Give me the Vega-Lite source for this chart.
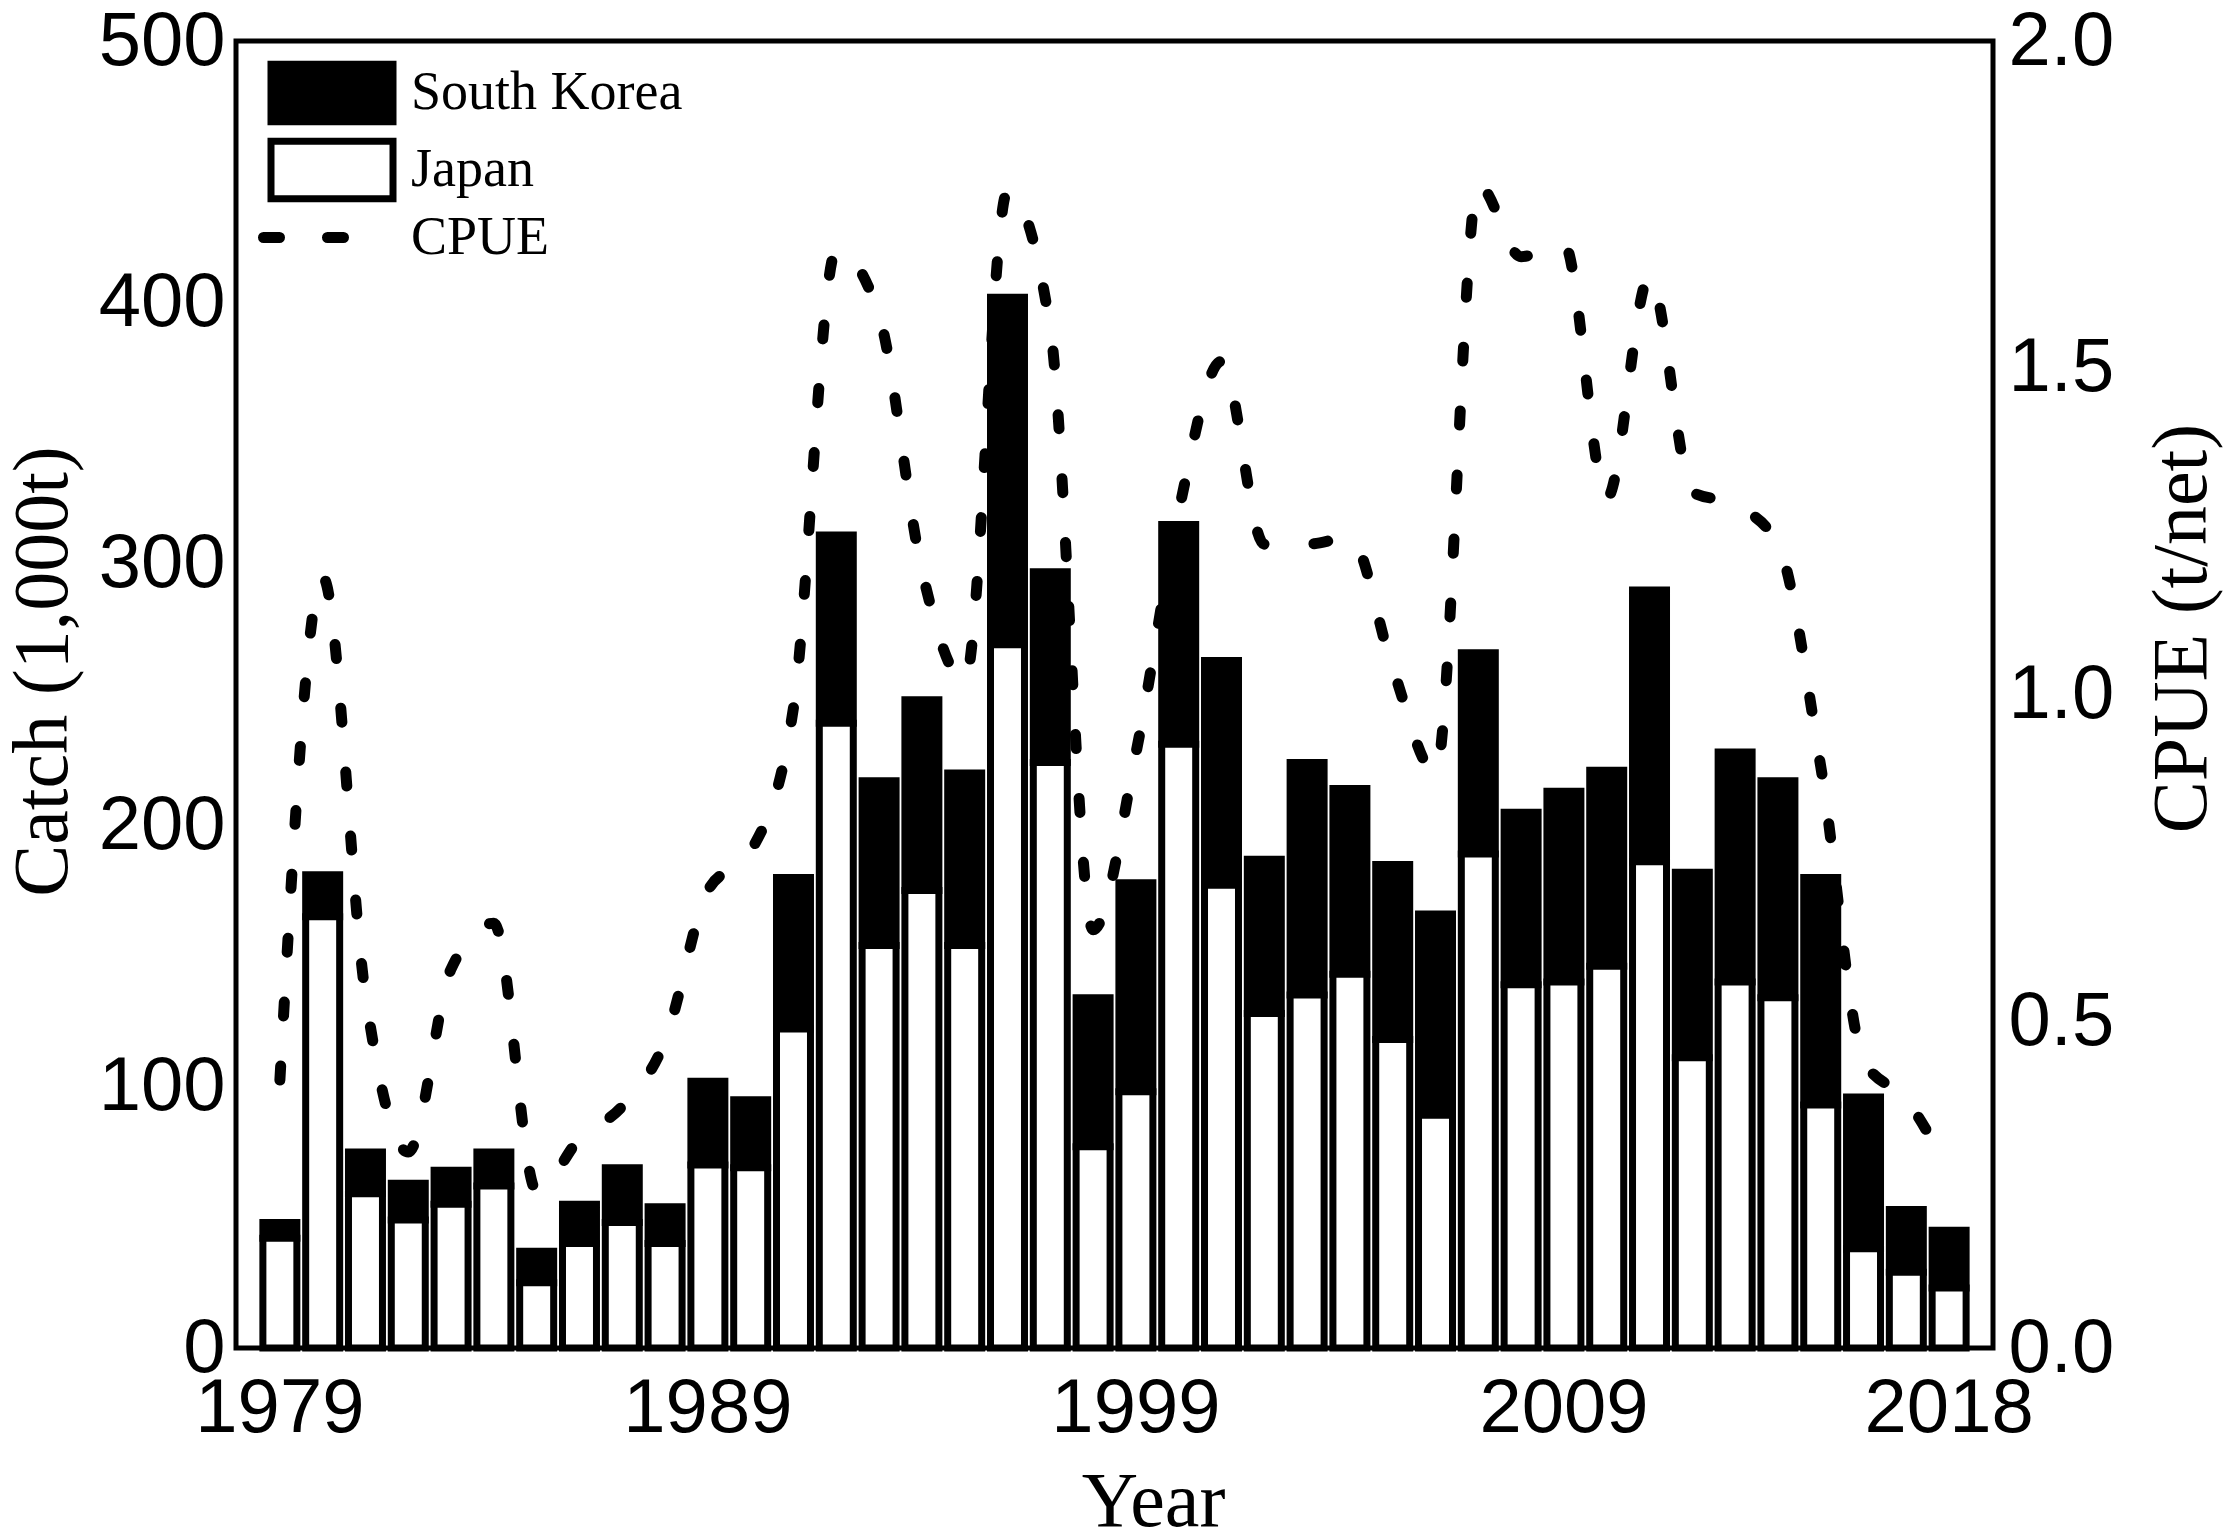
{
  "$schema": "https://vega.github.io/schema/vega-lite/v6.json",
  "width": 1757,
  "height": 1307,
  "autosize": {"type": "none"},
  "padding": {"left": 236, "top": 41, "right": 234, "bottom": 184},
  "background": "white",
  "data": {
    "values": [
      {"Year": 1979, "Japan": 42, "South Korea": 6, "CPUE": 0.41},
      {"Year": 1980, "Japan": 165, "South Korea": 16, "CPUE": 1.18},
      {"Year": 1981, "Japan": 59, "South Korea": 16, "CPUE": 0.54},
      {"Year": 1982, "Japan": 49, "South Korea": 14, "CPUE": 0.30},
      {"Year": 1983, "Japan": 55, "South Korea": 13, "CPUE": 0.58},
      {"Year": 1984, "Japan": 62, "South Korea": 13, "CPUE": 0.65},
      {"Year": 1985, "Japan": 25, "South Korea": 12, "CPUE": 0.24},
      {"Year": 1986, "Japan": 40, "South Korea": 15, "CPUE": 0.32},
      {"Year": 1987, "Japan": 48, "South Korea": 21, "CPUE": 0.37},
      {"Year": 1988, "Japan": 40, "South Korea": 14, "CPUE": 0.47},
      {"Year": 1989, "Japan": 70, "South Korea": 32, "CPUE": 0.70},
      {"Year": 1990, "Japan": 69, "South Korea": 26, "CPUE": 0.76},
      {"Year": 1991, "Japan": 122, "South Korea": 58, "CPUE": 0.98},
      {"Year": 1992, "Japan": 239, "South Korea": 72, "CPUE": 1.68},
      {"Year": 1993, "Japan": 154, "South Korea": 63, "CPUE": 1.58},
      {"Year": 1994, "Japan": 175, "South Korea": 73, "CPUE": 1.19},
      {"Year": 1995, "Japan": 154, "South Korea": 66, "CPUE": 1.02},
      {"Year": 1996, "Japan": 269, "South Korea": 133, "CPUE": 1.77},
      {"Year": 1997, "Japan": 224, "South Korea": 73, "CPUE": 1.56},
      {"Year": 1998, "Japan": 77, "South Korea": 57, "CPUE": 0.64},
      {"Year": 1999, "Japan": 98, "South Korea": 80, "CPUE": 0.91},
      {"Year": 2000, "Japan": 231, "South Korea": 84, "CPUE": 1.28},
      {"Year": 2001, "Japan": 177, "South Korea": 86, "CPUE": 1.51},
      {"Year": 2002, "Japan": 128, "South Korea": 59, "CPUE": 1.23},
      {"Year": 2003, "Japan": 135, "South Korea": 89, "CPUE": 1.23},
      {"Year": 2004, "Japan": 143, "South Korea": 71, "CPUE": 1.24},
      {"Year": 2005, "Japan": 118, "South Korea": 67, "CPUE": 1.04},
      {"Year": 2006, "Japan": 89, "South Korea": 77, "CPUE": 0.88},
      {"Year": 2007, "Japan": 189, "South Korea": 77, "CPUE": 1.78},
      {"Year": 2008, "Japan": 139, "South Korea": 66, "CPUE": 1.67},
      {"Year": 2009, "Japan": 140, "South Korea": 73, "CPUE": 1.69},
      {"Year": 2010, "Japan": 146, "South Korea": 75, "CPUE": 1.30},
      {"Year": 2011, "Japan": 186, "South Korea": 104, "CPUE": 1.64},
      {"Year": 2012, "Japan": 111, "South Korea": 71, "CPUE": 1.31},
      {"Year": 2013, "Japan": 140, "South Korea": 88, "CPUE": 1.29},
      {"Year": 2014, "Japan": 134, "South Korea": 83, "CPUE": 1.23},
      {"Year": 2015, "Japan": 93, "South Korea": 87, "CPUE": 0.89},
      {"Year": 2016, "Japan": 38, "South Korea": 58, "CPUE": 0.44},
      {"Year": 2017, "Japan": 29, "South Korea": 24, "CPUE": 0.38},
      {"Year": 2018, "Japan": 23, "South Korea": 22, "CPUE": 0.27}
    ]
  },
  "encoding": {
    "x": {
      "field": "Year",
      "type": "ordinal",
      "scale": {"paddingInner": 0.206, "paddingOuter": 0.628},
      "axis": {
        "values": [1979, 1989, 1999, 2009, 2018],
        "labelAngle": 0,
        "ticks": false,
        "domain": false,
        "labelPadding": 23,
        "labelDx": 20,
        "labelFont": "Liberation Sans",
        "labelFontSize": 76,
        "labelColor": "black",
        "title": "Year",
        "titleFont": "Liberation Serif",
        "titleFontSize": 78,
        "titleFontWeight": "normal",
        "titleColor": "black",
        "titleX": 917,
        "titleY": 177,
        "titleAlign": "center",
        "titleBaseline": "alphabetic"
      }
    }
  },
  "layer": [
    {
      "transform": [
        {"fold": ["South Korea", "Japan"], "as": ["key", "value"]}
      ],
      "mark": {"type": "bar", "stroke": "black", "strokeWidth": 7},
      "encoding": {
        "y": {
          "field": "value",
          "type": "quantitative",
          "stack": "zero",
          "scale": {"domain": [0, 500], "nice": false},
          "axis": {
            "orient": "left",
            "values": [0, 100, 200, 300, 400, 500],
            "grid": false,
            "ticks": false,
            "domain": false,
            "labelPadding": 11,
            "labelDy": -5,
            "labelFont": "Liberation Sans",
            "labelFontSize": 76,
            "labelColor": "black",
            "title": "Catch (1,000t)",
            "titleFont": "Liberation Serif",
            "titleFontSize": 78,
            "titleFontWeight": "normal",
            "titleColor": "black",
            "titleAngle": -90,
            "titleX": -170,
            "titleY": 630,
            "titleAlign": "center",
            "titleBaseline": "alphabetic"
          }
        },
        "fill": {
          "field": "key",
          "type": "nominal",
          "scale": {"domain": ["South Korea", "Japan"], "range": ["black", "white"]},
          "legend": {
            "title": null,
            "orient": "none",
            "legendX": 62,
            "legendY": 18,
            "padding": 0,
            "symbolType": "M-2,-0.94H2V0.94H-2Z",
            "symbolSize": 3721,
            "symbolStrokeColor": "black",
            "symbolStrokeWidth": 7,
            "symbolOpacity": 1,
            "rowPadding": -17,
            "labelOffset": 45,
            "labelFont": "Liberation Serif",
            "labelFontSize": 54,
            "labelColor": "black",
            "labelLimit": 500
          }
        },
        "order": {"field": "key", "sort": "ascending"}
      }
    },
    {
      "mark": {
        "type": "line",
        "strokeWidth": 11,
        "strokeDash": [14, 50],
        "strokeCap": "round",
        "interpolate": "monotone"
      },
      "encoding": {
        "y": {
          "field": "CPUE",
          "type": "quantitative",
          "scale": {"domain": [0, 2], "nice": false},
          "axis": {
            "orient": "right",
            "values": [0, 0.5, 1, 1.5, 2],
            "format": ".1f",
            "grid": false,
            "ticks": false,
            "domain": false,
            "labelPadding": 15,
            "labelDy": -5,
            "labelFont": "Liberation Sans",
            "labelFontSize": 76,
            "labelColor": "black",
            "title": "CPUE (t/net)",
            "titleFont": "Liberation Serif",
            "titleFontSize": 78,
            "titleFontWeight": "normal",
            "titleColor": "black",
            "titleAngle": 270,
            "titleX": 212,
            "titleY": 587,
            "titleAlign": "center",
            "titleBaseline": "alphabetic"
          }
        },
        "color": {
          "datum": "CPUE",
          "scale": {"domain": ["CPUE"], "range": ["black"]},
          "legend": {
            "title": null,
            "orient": "none",
            "legendX": 22,
            "legendY": 151,
            "padding": 0,
            "symbolType": "stroke",
            "symbolSize": 6400,
            "symbolStrokeColor": "black",
            "symbolStrokeWidth": 11,
            "symbolDash": [16, 48],
            "labelOffset": 62,
            "labelFont": "Liberation Serif",
            "labelFontSize": 54,
            "labelColor": "black",
            "encode": {
              "symbols": {"update": {"strokeCap": {"value": "round"}}}
            }
          }
        }
      }
    }
  ],
  "resolve": {"scale": {"y": "independent"}},
  "config": {
    "view": {"stroke": "black", "strokeWidth": 5},
    "font": "Liberation Sans"
  }
}
